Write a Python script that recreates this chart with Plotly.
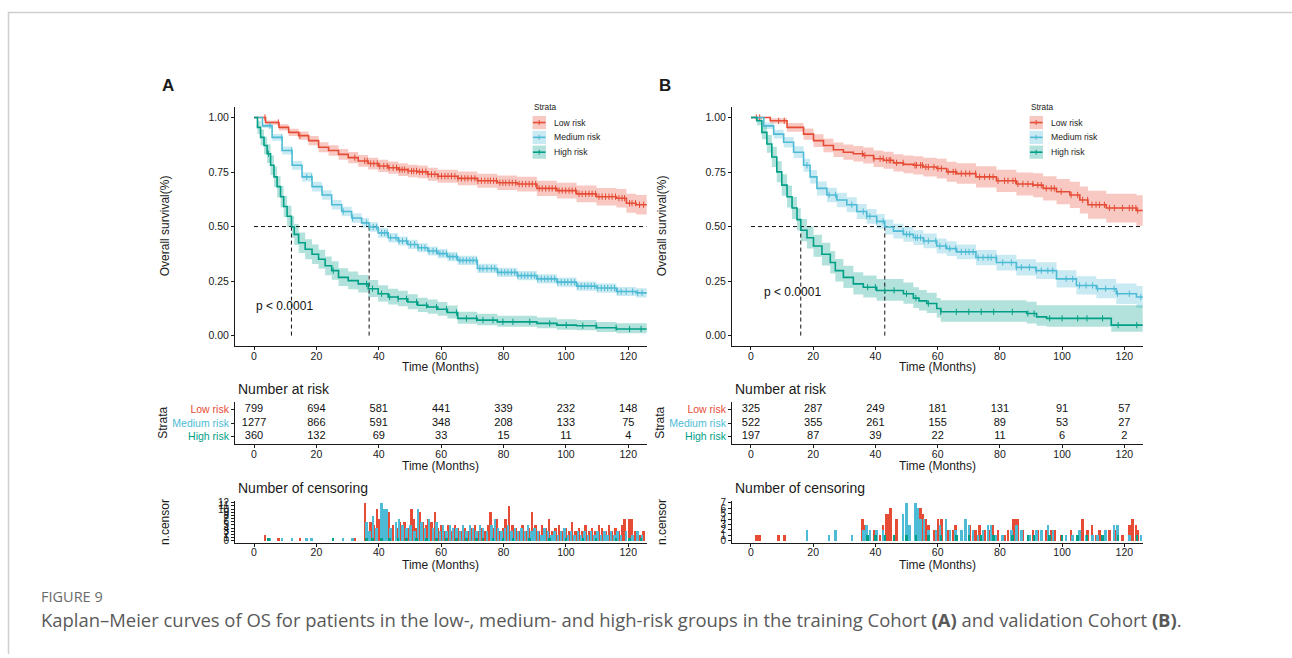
import numpy as np
import plotly.graph_objects as go

W, H = 1292, 658
FONT = "Liberation Sans, Arial, sans-serif"
CAPTION_FONT = "Open Sans, Noto Sans, sans-serif"

GROUPS = ["Low risk", "Medium risk", "High risk"]
COLORS = ["#E64B35", "#4DBBD5", "#00A087"]
BANDS = ["rgba(230,75,53,0.30)", "rgba(77,187,213,0.30)", "rgba(0,160,135,0.30)"]

TIME_TICKS = [0, 20, 40, 60, 80, 100, 120]
SURV_TICKS = [0, 0.25, 0.5, 0.75, 1.0]
SURV_TICK_TEXT = ["0.00", "0.25", "0.50", "0.75", "1.00"]
X_RANGE = [-6.1, 125.9]
FOLLOW_UP_END = 126.0

# ---------------- Training cohort (A) ----------------
A_LOW_T = [0, 3.7, 8, 11.1, 14.3, 17.5, 20.7, 23.9, 27.1, 30.2, 33.4, 36.6, 39.8, 43, 46.2,
           49.3, 52.5, 55.7, 58.9, 65.3, 71.6, 78, 84.4, 90.7, 97.1, 103.4, 109.8, 116.2, 119.4, 122.5]
A_LOW_S = [1, .977, .955, .932, .917, .894, .864, .849, .831, .816, .801, .789, .778, .770, .761,
           .755, .751, .740, .731, .721, .710, .701, .695, .675, .665, .650, .637, .630, .607, .600]
A_LOW_LO = [1, .967, .941, .915, .898, .873, .841, .825, .806, .790, .774, .762, .750, .742, .732,
            .726, .722, .710, .701, .690, .678, .668, .661, .640, .629, .612, .597, .588, .563, .555]
A_LOW_HI = [1, .987, .969, .949, .936, .915, .887, .873, .856, .842, .828, .816, .806, .798, .790,
            .784, .780, .770, .761, .752, .742, .734, .729, .710, .701, .688, .677, .672, .651, .645]

A_MED_T = [0, 2.7, 5.8, 9, 12.2, 15.4, 18.6, 21.8, 24.9, 28.1, 31.3, 34.5, 36.9, 39.8, 43, 46.2,
           49.3, 52.5, 55.7, 58.9, 62, 65.3, 71.6, 78, 84.4, 90.7, 97.1, 103.4, 109.8, 116.2, 122.5]
A_MED_S = [1, .962, .909, .849, .781, .728, .683, .645, .600, .569, .539, .517, .498, .471, .449, .434,
           .418, .403, .388, .376, .362, .345, .308, .290, .275, .260, .245, .227, .218, .202, .196]
A_MED_LO = [1, .952, .894, .831, .761, .707, .661, .623, .578, .547, .517, .495, .476, .449, .427, .413,
            .397, .382, .367, .355, .341, .324, .287, .269, .254, .239, .224, .206, .197, .181, .175]
A_MED_HI = [1, .972, .924, .867, .801, .749, .705, .667, .622, .591, .561, .539, .520, .493, .471, .455,
            .439, .424, .409, .397, .383, .366, .329, .311, .296, .281, .266, .248, .239, .223, .217]

A_HIGH_T = [0, 1.1, 2.1, 3.2, 4.2, 5.3, 6.4, 7.4, 8.5, 9.5, 10.6, 12.0, 12.9, 14.3, 16.4, 18.6, 20.7,
            22.8, 24.9, 27.1, 30.2, 33.4, 36.6, 39.8, 43, 46.2, 49.3, 52.5, 55.7, 58.9, 62, 65.3,
            71.6, 78, 90.7, 97.1, 103.4, 109.8, 116.2]
A_HIGH_S = [1, .955, .909, .872, .834, .781, .728, .683, .637, .592, .547, .498, .464, .426, .396, .373,
            .350, .320, .298, .267, .252, .237, .215, .192, .177, .169, .154, .139, .131, .121, .106,
            .079, .071, .063, .056, .048, .045, .036, .030]
A_HIGH_LO = [1, .925, .873, .832, .791, .736, .681, .635, .588, .543, .498, .449, .416, .379, .350,
             .328, .306, .277, .256, .227, .212, .198, .177, .156, .142, .135, .121, .108, .100, .091,
             .078, .054, .047, .040, .034, .027, .024, .017, .011]
A_HIGH_HI = [1, .985, .945, .912, .877, .826, .775, .731, .686, .641, .596, .547, .512, .473, .442,
             .418, .394, .363, .341, .309, .294, .278, .255, .231, .215, .206, .190, .174, .165, .154,
             .138, .109, .100, .091, .083, .075, .071, .062, .057]

A_RISK_LOW = [799, 694, 581, 441, 339, 232, 148]
A_RISK_MED = [1277, 866, 591, 348, 208, 133, 75]
A_RISK_HIGH = [360, 132, 69, 33, 15, 11, 4]

A_CENS_LOW_T = [3.5, 7.8, 14.7, 32.3, 35.5, 36.3, 37.4, 38.4, 39.5, 40.3, 41.6, 42.7, 43.3, 44.6, 45.7,
                46.7, 47.5, 48.3, 49.4, 50.5, 51.2, 52.1, 53.1, 54.0, 55.1, 55.8, 56.9, 58.0, 59.0,
                60.1, 61.2, 62.2, 63.3, 64.4, 65.4, 66.5, 67.6, 68.6, 69.7, 70.8, 71.8, 72.9, 74.0,
                75.0, 75.8, 76.8, 77.7, 78.8, 79.8, 80.7, 81.8, 82.8, 83.9, 85.0, 86.0, 87.1, 88.2,
                89.2, 90.3, 91.4, 92.4, 93.5, 94.6, 95.6, 96.7, 97.8, 98.8, 99.9, 101.0, 102.0, 103.1,
                104.2, 105.2, 106.3, 107.4, 108.4, 109.5, 110.6, 111.6, 112.7, 113.8, 114.8, 115.9,
                117.0, 118.0, 118.8, 120.4, 121.2, 122.3, 123.6, 124.9]
A_CENS_LOW_N = [2, 1, 1, 1, 12, 5, 6, 5, 10, 7, 4, 5, 9, 5, 4, 6, 3, 6, 4, 10, 7, 4, 9, 6, 5, 7, 6, 9, 4,
                5, 3, 5, 3, 5, 4, 3, 4, 3, 4, 5, 3, 4, 3, 5, 9, 4, 7, 3, 4, 7, 11, 5, 4, 3, 5, 3, 4,
                9, 5, 3, 5, 4, 7, 3, 4, 5, 3, 4, 3, 6, 3, 4, 3, 5, 3, 4, 3, 5, 4, 3, 5, 3, 4, 3, 5,
                7, 7, 7, 3, 2, 3]
A_CENS_MED_T = [5.1, 8.9, 12.1, 16.9, 18.5, 28.6, 31.6, 36.1, 37.1, 38.2, 39.3, 40.9, 41.9, 42.7, 43.8,
                45.5, 46.5, 47.6, 48.9, 50.2, 51.5, 52.6, 53.7, 54.8, 56.1, 57.4, 58.5, 59.6, 60.6,
                61.7, 62.8, 63.8, 64.9, 66.0, 67.0, 68.1, 69.2, 70.2, 71.3, 72.4, 73.4, 74.7, 76.1,
                77.2, 78.2, 79.3, 80.4, 81.4, 82.5, 83.6, 84.6, 85.7, 86.8, 87.8, 88.9, 90.0, 91.0,
                92.1, 93.2, 94.2, 95.3, 96.4, 97.4, 98.5, 99.6, 100.6, 101.7, 102.8, 103.8, 104.9,
                106.0, 107.0, 108.1, 109.2, 110.2, 111.3, 112.4, 113.4, 114.5, 115.6, 116.6, 117.7,
                119.3, 121.4, 123.0, 124.4]
A_CENS_MED_N = [1, 1, 1, 1, 1, 1, 1, 6, 3, 8, 4, 12, 10, 10, 4, 6, 7, 5, 4, 5, 3, 10, 6, 4, 7, 4, 6, 3,
                5, 3, 5, 4, 4, 3, 5, 3, 5, 4, 3, 5, 4, 3, 5, 7, 4, 3, 4, 5, 3, 4, 3, 4, 3, 5, 3, 4,
                3, 2, 4, 3, 2, 3, 2, 3, 4, 2, 3, 2, 3, 2, 3, 2, 3, 2, 3, 2, 3, 2, 3, 2, 3, 2, 3, 2,
                3, 2]
A_CENS_HIGH_T = [4.6, 25.4, 36.1, 38.0, 40.9, 43.5, 46.2, 48.9, 52.1, 55.3, 58.5, 61.7, 64.9, 68.1,
                 71.3, 73.4, 76.6, 79.8, 83.0, 88.4, 94.8, 100.1, 105.4, 109.7, 116.1, 120.4, 124.1]
A_CENS_HIGH_N = [1] * 27
A_MEDIANS = [12.0, 36.9]

# ---------------- Validation cohort (B) ----------------
B_LOW_T = [0, 6.2, 11.6, 16.9, 20.1, 23.3, 26.5, 29.7, 32.9, 36.1, 39.4, 42.6, 45.8, 49, 52.2, 55.4,
           59.7, 62.9, 66.1, 72.3, 78.9, 85.3, 90.7, 93.9, 98.2, 102.5, 105.7, 108.3, 114.2, 123.9]
B_LOW_S = [1, .985, .955, .924, .894, .872, .852, .841, .834, .826, .811, .804, .792, .785, .781, .773,
           .766, .751, .743, .728, .710, .695, .690, .675, .660, .645, .622, .600, .585, .574]
B_LOW_LO = [1, .973, .935, .898, .865, .841, .819, .806, .798, .789, .773, .765, .752, .744, .739, .730,
            .721, .705, .696, .679, .659, .642, .635, .619, .602, .585, .560, .536, .519, .504]
B_LOW_HI = [1, .997, .975, .950, .923, .903, .885, .876, .870, .863, .849, .843, .832, .826, .823, .816,
            .811, .797, .790, .777, .761, .748, .745, .731, .718, .705, .684, .664, .651, .644]

B_MED_T = [0, 4.1, 7.3, 10.5, 13.7, 16.9, 19, 21.2, 24.4, 27.6, 30.8, 34, 37.2, 40.4, 43.0, 45.8, 49,
           52.2, 55.4, 59.7, 62.9, 66.1, 72.3, 78.9, 85.3, 91.6, 98.2, 104.6, 111, 117.4, 123.9]
B_MED_S = [1, .962, .924, .887, .841, .781, .728, .675, .645, .622, .600, .569, .547, .524, .498, .479,
           .464, .449, .434, .411, .399, .384, .358, .335, .313, .298, .260, .230, .215, .192, .177]
B_MED_LO = [1, .947, .904, .863, .814, .751, .697, .643, .612, .589, .566, .535, .513, .490, .464, .445,
            .430, .415, .400, .377, .365, .350, .323, .299, .276, .260, .220, .188, .171, .145, .127]
B_MED_HI = [1, .977, .944, .911, .868, .811, .759, .707, .678, .655, .634, .603, .581, .558, .532, .513,
            .498, .483, .468, .445, .433, .418, .393, .371, .350, .336, .300, .272, .259, .239, .227]

B_HIGH_T = [0, 1.9, 3.5, 5.1, 6.7, 8.3, 9.9, 11.6, 13.2, 14.8, 16.0, 18, 20.1, 22.8, 25.5, 27.1, 29.7,
            32.9, 36.1, 40.4, 49, 52.2, 54, 56.5, 59.7, 61, 88.6, 91.8, 95, 115.8]
B_HIGH_S = [1, .985, .932, .879, .819, .751, .690, .637, .585, .532, .483, .449, .411, .373, .335, .298,
            .267, .237, .222, .207, .192, .172, .159, .147, .124, .109, .101, .086, .079, .048]
B_HIGH_LO = [1, .965, .900, .838, .773, .703, .641, .588, .535, .482, .433, .399, .361, .322, .285, .248,
             .218, .189, .175, .160, .146, .127, .115, .104, .083, .063, .055, .045, .041, .018]
B_HIGH_HI = [1, 1.0, .962, .920, .866, .800, .740, .688, .636, .584, .535, .501, .463, .426, .388, .351,
             .320, .290, .275, .259, .243, .222, .209, .196, .172, .162, .155, .139, .139, .139]

B_RISK_LOW = [325, 287, 249, 181, 131, 91, 57]
B_RISK_MED = [522, 355, 261, 155, 89, 53, 27]
B_RISK_HIGH = [197, 87, 39, 22, 11, 6, 2]

B_CENS_LOW_T = [1.7, 2.8, 8.9, 10.7, 35.8, 36.6, 39.5, 41.5, 42.5, 43.6, 44.4, 44.9, 46.8, 48.9, 52.7,
                53.2, 54.5, 55.1, 56.2, 57.0, 58.8, 60.1, 61.2, 63.4, 65.0, 65.8, 67.6, 69.0, 70.3,
                72.2, 73.5, 75.1, 76.7, 77.8, 79.4, 81.5, 82.6, 84.2, 85.0, 85.8, 87.4, 89.0, 90.6,
                92.2, 93.3, 94.9, 96.5, 97.5, 99.7, 102.9, 105.0, 106.6, 108.2, 109.6, 110.9, 112.0,
                113.6, 115.2, 116.8, 119.4, 121.6, 122.6, 123.7, 124.3]
B_CENS_LOW_N = [1, 1, 1, 1, 4, 3, 2, 1, 3, 5, 5, 6, 4, 2, 3, 4, 6, 5, 4, 3, 2, 4, 4, 2, 2, 3, 2, 3, 3, 2,
                3, 2, 2, 3, 2, 1, 2, 4, 4, 4, 2, 1, 2, 2, 2, 2, 2, 2, 1, 2, 1, 4, 2, 3, 1, 2, 1, 2, 2,
                1, 3, 4, 3, 2]
B_CENS_MED_T = [18.0, 25.1, 27.2, 32.4, 36.1, 37.2, 38.2, 40.4, 42.5, 48.9, 50.0, 51.0, 52.9, 53.5, 54.5,
                55.6, 57.0, 59.4, 60.7, 62.6, 63.9, 65.8, 67.6, 69.0, 70.1, 71.4, 73.0, 74.6, 76.2,
                77.2, 78.8, 80.9, 83.7, 85.3, 86.9, 89.5, 91.7, 93.3, 95.4, 97.0, 101.3, 103.4, 105.6,
                107.7, 109.8, 111.4, 114.0, 116.7, 117.8, 121.6, 125.3]
B_CENS_MED_N = [2, 1, 2, 1, 2, 3, 2, 2, 2, 5, 7, 3, 7, 6, 4, 4, 2, 2, 3, 4, 2, 2, 2, 4, 3, 2, 1, 2, 3, 3,
                1, 1, 2, 3, 2, 1, 2, 2, 3, 2, 1, 1, 2, 1, 1, 1, 2, 3, 3, 1, 1]
B_CENS_HIGH_T = [37.5, 40.0, 43.0, 46.0, 50.0, 53.0, 57.0, 61.0, 66.0, 70.0, 74.0, 78.0, 84.0, 89.0, 91.0,
                 96.0, 100.0, 105.0, 108.0, 113.0, 118.0, 124.0]
B_CENS_HIGH_N = [1] * 22
B_MEDIANS = [16.0, 43.0]


def px_x(p):
    return p / W


def px_y(p):
    return 1 - p / H


def step_value(t_arr, s_arr, times):
    idx = np.searchsorted(np.asarray(t_arr), np.asarray(times), side="right") - 1
    return np.asarray(s_arr)[idx]


fig = go.Figure()
annotations = []
shapes = []
layout_axes = {}

AXIS_COLOR = "#1a1a1a"
TICK_FONT = dict(family=FONT, size=10.5, color=AXIS_COLOR)


def base_axis(**kw):
    d = dict(showline=True, linecolor=AXIS_COLOR, linewidth=1, ticks="outside", ticklen=3,
             tickwidth=1, tickcolor=AXIS_COLOR, showgrid=False, zeroline=False, tickfont=TICK_FONT,
             fixedrange=True)
    d.update(kw)
    return d


def text(x, y, s, size=12, color=AXIS_COLOR, xanchor="center", yanchor="middle", angle=0,
         family=FONT):
    annotations.append(dict(x=px_x(x), y=px_y(y), xref="paper", yref="paper", text=s,
                            showarrow=False, xanchor=xanchor, yanchor=yanchor, textangle=angle,
                            font=dict(family=family, size=size, color=color)))


def time_axis(xdom, anchor):
    return base_axis(domain=xdom, range=X_RANGE, tickvals=TIME_TICKS, anchor=anchor,
                     ticklabelstandoff=-3)


def panel(k, letter, x0, x1, curves, risks, cens, medians, pval_xy, legend_x):
    ax = [f"{3 * k + i + 1}" for i in range(3)]
    names = [("" if a == "1" else a) for a in ax]
    xm, xr, xc = [f"x{n}" for n in names]
    ym, yr, yc = [f"y{n}" for n in names]
    xdom = [px_x(x0), px_x(x1)]
    cx = (x0 + x1) / 2

    # survival panel
    layout_axes["xaxis" + names[0]] = time_axis(xdom, ym)
    layout_axes["yaxis" + names[0]] = base_axis(domain=[px_y(346.7), px_y(103.9)], range=[-0.05, 1.05],
                                                tickvals=SURV_TICKS, ticktext=SURV_TICK_TEXT, anchor=xm)
    for (t, s, lo, hi), col, band in zip(curves, COLORS, BANDS):
        tt = list(t) + [FOLLOW_UP_END]
        fig.add_trace(go.Scatter(x=tt, y=list(hi) + [hi[-1]], mode="lines", line=dict(width=0, shape="hv"),
                                 xaxis=xm, yaxis=ym, showlegend=False, hoverinfo="skip"))
        fig.add_trace(go.Scatter(x=tt, y=list(lo) + [lo[-1]], mode="lines", line=dict(width=0, shape="hv"),
                                 fill="tonexty", fillcolor=band, xaxis=xm, yaxis=ym, showlegend=False,
                                 hoverinfo="skip"))
    # median reference lines
    fig.add_trace(go.Scatter(x=[0, X_RANGE[1]], y=[0.5, 0.5], mode="lines",
                             line=dict(color="#111", width=1, dash="4px,3px"), xaxis=xm, yaxis=ym,
                             showlegend=False, hoverinfo="skip"))
    for m in medians:
        fig.add_trace(go.Scatter(x=[m, m], y=[0, 0.5], mode="lines",
                                 line=dict(color="#111", width=1, dash="4px,3px"), xaxis=xm, yaxis=ym,
                                 showlegend=False, hoverinfo="skip"))
    for (t, s, lo, hi), (ct, cn), col in zip(curves, cens, COLORS):
        fig.add_trace(go.Scatter(x=list(t) + [FOLLOW_UP_END], y=list(s) + [s[-1]], mode="lines",
                                 line=dict(color=col, width=1.6, shape="hv"), xaxis=xm, yaxis=ym,
                                 showlegend=False, hoverinfo="skip"))
        fig.add_trace(go.Scatter(x=ct, y=step_value(t, s, ct), mode="markers",
                                 marker=dict(symbol="line-ns", size=4.5, line=dict(color=col, width=1)),
                                 xaxis=xm, yaxis=ym, showlegend=False, hoverinfo="skip"))
    annotations.append(dict(x=pval_xy[0], y=pval_xy[1], xref=xm, yref=ym, text="p < 0.0001",
                            showarrow=False, xanchor="left", yanchor="middle",
                            font=dict(family=FONT, size=12, color="#111")))
    text(x0 - 70, 225, "Overall survival(%)", size=12, angle=-90)
    text(cx, 367.5, "Time (Months)", size=12)
    text(x0 - 67.5, 83, f"<b>{letter}</b>", size=17)

    # legend
    text(legend_x, 104, "Strata", size=8.3, xanchor="left")
    for i, (g, col, band) in enumerate(zip(GROUPS, COLORS, BANDS)):
        yc_ = 120 + 15 * i
        shapes.append(dict(type="rect", xref="paper", yref="paper", x0=px_x(legend_x + 0.5),
                           x1=px_x(legend_x + 14), y0=px_y(yc_ + 6.7), y1=px_y(yc_ - 6.7),
                           fillcolor=band, line=dict(width=0)))
        shapes.append(dict(type="line", xref="paper", yref="paper", x0=px_x(legend_x + 1),
                           x1=px_x(legend_x + 13.5), y0=px_y(yc_), y1=px_y(yc_),
                           line=dict(color=col, width=1.6)))
        shapes.append(dict(type="line", xref="paper", yref="paper", x0=px_x(legend_x + 7.2),
                           x1=px_x(legend_x + 7.2), y0=px_y(yc_ - 2.5), y1=px_y(yc_ + 2.5),
                           line=dict(color=col, width=1)))
        text(legend_x + 19.5, yc_, g, size=8.6, xanchor="left")

    # number at risk table
    layout_axes["xaxis" + names[1]] = time_axis(xdom, yr)
    layout_axes["yaxis" + names[1]] = base_axis(
        domain=[px_y(445.7), px_y(403.3)], range=[0.4, 3.55], tickvals=[3, 2, 1],
        ticktext=[f"<span style='color:{c}'>{g}</span>" for g, c in zip(GROUPS, COLORS)],
        tickfont=dict(family=FONT, size=10.5), anchor=xr)
    for row, vals in zip([3, 2, 1], risks):
        fig.add_trace(go.Scatter(x=TIME_TICKS, y=[row] * len(vals), mode="text",
                                 text=[str(v) for v in vals],
                                 textfont=dict(family=FONT, size=11, color="#111"),
                                 xaxis=xr, yaxis=yr, showlegend=False, hoverinfo="skip"))
    text(x0 + 1, 390, "Number at risk", size=14, xanchor="left")
    text(x0 - 72, 424, "Strata", size=12, angle=-90)
    text(cx, 467.5, "Time (Months)", size=12)

    # number of censoring
    ymax = max(max(n) for _, n in cens)
    pad = ymax * 0.05
    layout_axes["xaxis" + names[2]] = time_axis(xdom, yc)
    layout_axes["yaxis" + names[2]] = base_axis(domain=[px_y(545.3), px_y(503)], range=[-pad, ymax + pad],
                                                tickvals=list(range(0, ymax + 1)), anchor=xc,
                                                tickfont=dict(family=FONT, size=10, color=AXIS_COLOR))
    for (ct, cn), col in zip(cens, COLORS):
        fig.add_trace(go.Bar(x=ct, y=cn, width=0.8, marker=dict(color=col, line=dict(width=0)),
                             xaxis=xc, yaxis=yc, showlegend=False, hoverinfo="skip"))
    text(x0 + 1, 490, "Number of censoring", size=14, xanchor="left")
    text(x0 - 70, 524.5, "n.censor", size=12, angle=-90)
    text(cx, 567.5, "Time (Months)", size=12)


panel(0, "A", 235, 646.7,
      [(A_LOW_T, A_LOW_S, A_LOW_LO, A_LOW_HI), (A_MED_T, A_MED_S, A_MED_LO, A_MED_HI),
       (A_HIGH_T, A_HIGH_S, A_HIGH_LO, A_HIGH_HI)],
      [A_RISK_LOW, A_RISK_MED, A_RISK_HIGH],
      [(A_CENS_LOW_T, A_CENS_LOW_N), (A_CENS_MED_T, A_CENS_MED_N), (A_CENS_HIGH_T, A_CENS_HIGH_N)],
      A_MEDIANS, (0.0, 0.137), 532)

panel(1, "B", 732, 1142.7,
      [(B_LOW_T, B_LOW_S, B_LOW_LO, B_LOW_HI), (B_MED_T, B_MED_S, B_MED_LO, B_MED_HI),
       (B_HIGH_T, B_HIGH_S, B_HIGH_LO, B_HIGH_HI)],
      [B_RISK_LOW, B_RISK_MED, B_RISK_HIGH],
      [(B_CENS_LOW_T, B_CENS_LOW_N), (B_CENS_MED_T, B_CENS_MED_N), (B_CENS_HIGH_T, B_CENS_HIGH_N)],
      B_MEDIANS, (3.6, 0.198), 1029)

# frame around the figure and caption
shapes.append(dict(type="line", xref="paper", yref="paper", x0=px_x(8), x1=1, y0=px_y(8.5), y1=px_y(8.5),
                   line=dict(color="#cfcfcf", width=1.5)))
shapes.append(dict(type="line", xref="paper", yref="paper", x0=px_x(8.5), x1=px_x(8.5), y0=0, y1=px_y(8),
                   line=dict(color="#cfcfcf", width=1.5)))
text(39, 600, "FIGURE 9", size=14.5, color="#6b6b6b", xanchor="left", family=CAPTION_FONT)
text(39, 623, "Kaplan\u2013Meier curves of OS for patients in the low-, medium- and high-risk groups in the "
              "training Cohort <b>(A)</b> and validation Cohort <b>(B)</b>.",
     size=18.45, color="#595959", xanchor="left", family=CAPTION_FONT)

fig.update_layout(
    width=W, height=H, margin=dict(l=0, r=0, t=0, b=0),
    paper_bgcolor="white", plot_bgcolor="white", barmode="overlay", bargap=0,
    annotations=annotations, shapes=shapes, showlegend=False,
    font=dict(family=FONT, color=AXIS_COLOR),
    **layout_axes,
)

fig.write_html("out.html", config={"displayModeBar": False})
